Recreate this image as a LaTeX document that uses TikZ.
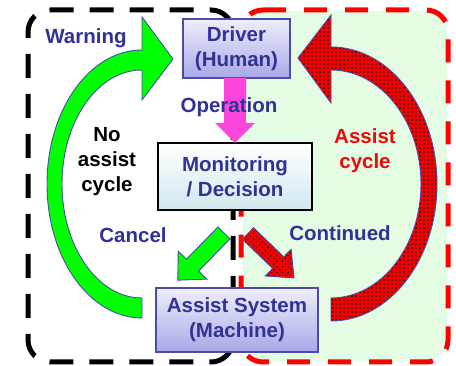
\documentclass[tikz,border=0pt]{standalone}
\usepackage{fontspec}
\setmainfont{Liberation Sans}
\definecolor{txtblue}{RGB}{50,50,150}
\definecolor{boxline}{RGB}{75,75,170}
\definecolor{boxtop}{RGB}{238,238,252}
\definecolor{boxbot}{RGB}{168,168,232}
\definecolor{montop}{RGB}{255,255,255}
\definecolor{monbot}{RGB}{208,232,238}
\definecolor{lgreen}{RGB}{228,252,228}
\definecolor{agreen}{RGB}{0,255,0}
\definecolor{ared}{RGB}{245,0,0}
\definecolor{tred}{RGB}{235,10,10}
\definecolor{amag}{RGB}{250,70,220}
\newcommand{\blkarrow}[7]{\path[#1,shift={#2},rotate=#3] (0,-#5) -- ({#4-#7},-#5) -- ({#4-#7},-#6) -- (#4,0) -- ({#4-#7},#6) -- ({#4-#7},#5) -- (0,#5) -- cycle;}
\tikzset{
  lbl/.style={font=\fontsize{20.5}{25}\selectfont\bfseries, text=txtblue, inner sep=0pt, align=center},
  bluebox/.style={draw=boxline, line width=1.3pt, top color=boxtop, bottom color=boxbot, inner sep=0pt, font=\fontsize{20.5}{25}\selectfont\bfseries, text=txtblue, align=center},
  monbox/.style={draw=black, line width=1.3pt, top color=montop, bottom color=monbot, inner sep=0pt, font=\fontsize{20.5}{25}\selectfont\bfseries, text=txtblue, align=center},
  greenarr/.style={fill=agreen, draw=boxline, line width=0.9pt},
  redbig/.style={fill=ared, draw=boxline, line width=0.9pt,
    path picture={\foreach \i in {224,228,...,440} \foreach \j in {42,46,...,354} \fill[black] (\i,\j) circle (0.8pt);}},
  redsmall/.style={fill=ared, draw=boxline, line width=0.9pt,
    path picture={\foreach \i in {0,4,...,64} \foreach \j in {-20,-16,...,20} \fill[black] (\i,\j) circle (0.8pt);}},
  magarr/.style={fill=amag},
  blackdash/.style={draw=black, line width=5pt, dash pattern=on 24pt off 16pt, rounded corners=22pt},
  reddash/.style={draw=red, line width=5pt, dash pattern=on 23pt off 18pt, rounded corners=22pt}
}
\begin{document}
\begin{tikzpicture}[x=1pt,y=1pt]
\useasboundingbox (0,0) rectangle (456,366);
% background regions
\fill[lgreen, rounded corners=22pt] (243,5) rectangle (447,355);
\path[blackdash] (233,4) -- (233,356) -- (28,356) -- (28,4) -- cycle;
\path[reddash] (241,356) -- (448,356) -- (448,4) -- (241,4) -- cycle;
% big arrows
\path[greenarr] (142,349) -- (173,307) -- (142,266) -- (142,296)
  arc[start angle=90, end angle=270, x radius=80pt, y radius=114pt]
  -- (142,48) arc[start angle=270, end angle=90, x radius=95pt, y radius=134pt] -- cycle;
\path[redbig] (331,351) -- (298,308) -- (331,263) -- (331,296)
  arc[start angle=90, end angle=-90, x radius=90pt, y radius=114pt]
  -- (331,45) arc[start angle=-90, end angle=90, x radius=106pt, y radius=137pt] -- cycle;
% boxes
\node[bluebox, minimum width=107pt, minimum height=59pt] (driver) at (236.5,317.5) {Driver\\(Human)};
\node[monbox, minimum width=154pt, minimum height=67pt] (monitor) at (235,189.5) {Monitoring\\/ Decision};
\node[bluebox, minimum width=162pt, minimum height=64pt] (assist) at (237,46) {Assist System\\(Machine)};
% small arrows
\coordinate (opstart) at (235,288);
\coordinate (cancelstart) at (224,133);
\coordinate (contstart) at (248,132.5);
\blkarrow{magarr}{(opstart)}{-90}{65}{11}{20}{20}
\blkarrow{greenarr}{(cancelstart)}{225.6}{66}{8.5}{20}{21}
\blkarrow{redsmall}{(contstart)}{-44}{64}{8}{18.5}{22}
% labels
\node[lbl] (warn) at (86,328) {Warning};
\node[lbl] (oper) at (229,259) {Operation};
\node[lbl, text=black] (noassist) at (107,204) {No\\assist\\cycle};
\node[lbl, text=tred] (acycle) at (365,215) {Assist\\cycle};
\node[lbl] (cancel) at (133,131) {Cancel};
\node[lbl] (cont) at (340,133) {Continued};
\end{tikzpicture}
\end{document}
